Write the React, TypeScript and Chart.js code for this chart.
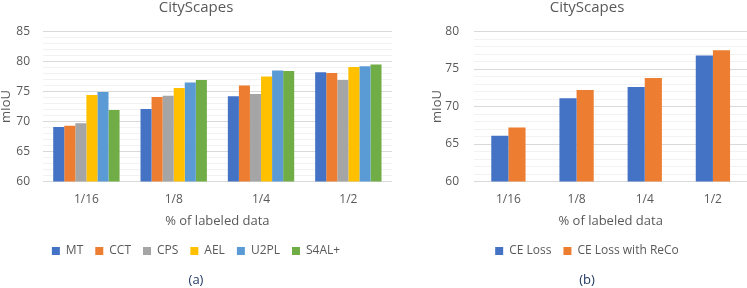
import React, { useEffect, useRef } from "react";
import { Chart, registerables } from "chart.js";

Chart.register(...registerables);

const categories = ["1/16", "1/8", "1/4", "1/2"];

const leftSeriesNames = ["MT", "CCT", "CPS", "AEL", "U2PL", "S4AL+"];
const mtValues = [69.1, 72.1, 74.2, 78.2];
const cctValues = [69.3, 74.1, 76.0, 78.1];
const cpsValues = [69.7, 74.3, 74.6, 76.9];
const aelValues = [74.4, 75.6, 77.5, 79.1];
const u2plValues = [74.9, 76.5, 78.5, 79.2];
const s4alValues = [71.9, 76.9, 78.4, 79.5];
const leftColors = ["#4472C4", "#ED7D31", "#A5A5A5", "#FFC000", "#5B9BD5", "#70AD47"];

const rightSeriesNames = ["CE Loss", "CE Loss with ReCo"];
const ceLossValues = [66.1, 71.1, 72.6, 76.8];
const ceRecoValues = [67.2, 72.2, 73.8, 77.5];
const rightColors = ["#4472C4", "#ED7D31"];

const chartTitle = "CityScapes";
const xAxisTitle = "% of labeled data";
const yAxisTitle = "mIoU";
const leftYMin = 60;
const leftYMax = 85;
const rightYMin = 60;
const rightYMax = 80;

const FONT = "'Open Sans', 'Noto Sans', sans-serif";
const TEXT = "#595959";

function makeConfig(
  names: string[],
  values: number[][],
  colors: string[],
  yMin: number,
  yMax: number,
  caption: string,
  catPct: number,
  yTitlePad: { top: number; bottom: number },
  yTickPad: number
): any {
  return {
    type: "bar",
    data: {
      labels: categories,
      datasets: names.map((n, i) => ({
        label: n,
        data: values[i],
        backgroundColor: colors[i],
        borderWidth: 0,
        barPercentage: 1,
        categoryPercentage: catPct,
      })),
    },
    options: {
      animation: false,
      responsive: false,
      maintainAspectRatio: false,
      layout: { padding: 0 },
      plugins: {
        title: {
          display: true,
          text: chartTitle,
          color: TEXT,
          font: { family: FONT, size: 15, weight: "normal" },
          padding: { top: -1, bottom: 14.5 },
        },
        subtitle: {
          display: true,
          position: "bottom",
          text: caption,
          color: "#203864",
          font: { family: FONT, size: 13, weight: "normal" },
          padding: { top: 5.4, bottom: 0 },
        },
        legend: {
          display: true,
          position: "bottom",
          labels: {
            boxWidth: 8,
            boxHeight: 8,
            padding: 12,
            color: TEXT,
            font: { family: FONT, size: 12 },
          },
        },
        tooltip: { enabled: false },
      },
      scales: {
        x: {
          grid: { display: false, drawTicks: false },
          border: { display: false },
          ticks: {
            color: TEXT,
            padding: 11,
            font: { family: FONT, size: 12 },
          },
          title: {
            display: true,
            text: xAxisTitle,
            color: TEXT,
            font: { family: FONT, size: 13 },
            padding: { top: -4.5, bottom: 4 },
          },
        },
        y: {
          min: yMin,
          max: yMax,
          border: { display: false },
          grid: {
            drawTicks: false,
            color: (ctx: any) =>
              ctx.tick && ctx.tick.value % 5 === 0 ? "#D9D9D9" : "#F2F2F2",
            lineWidth: 1,
          },
          ticks: {
            stepSize: 1,
            autoSkip: false,
            color: TEXT,
            padding: yTickPad,
            font: { family: FONT, size: 12 },
            callback: (v: any) => (Number(v) % 5 === 0 ? String(v) : ""),
          },
          title: {
            display: true,
            text: yAxisTitle,
            color: TEXT,
            font: { family: FONT, size: 13 },
            padding: yTitlePad,
          },
        },
      },
    },
  };
}

function ChartBox(props: { left: number; width: number; config: any }) {
  const ref = useRef<HTMLCanvasElement | null>(null);
  useEffect(() => {
    if (!ref.current) return;
    const chart = new Chart(ref.current, props.config);
    return () => chart.destroy();
  }, []);
  return (
    <div
      style={{
        position: "absolute",
        left: props.left,
        top: 0,
        width: props.width,
        height: 288,
      }}
    >
      <canvas ref={ref} width={props.width} height={288} style={{ display: "block" }} />
    </div>
  );
}

export default function App() {
  const leftConfig = makeConfig(
    leftSeriesNames,
    [mtValues, cctValues, cpsValues, aelValues, u2plValues, s4alValues],
    leftColors,
    leftYMin,
    leftYMax,
    "(a)",
    0.76,
    { top: -1.8, bottom: -10.2 },
    12.7
  );
  const rightConfig = makeConfig(
    rightSeriesNames,
    [ceLossValues, ceRecoValues],
    rightColors,
    rightYMin,
    rightYMax,
    "(b)",
    0.503,
    { top: 2.7, bottom: -15.3 },
    15.3
  );
  return (
    <div style={{ position: "absolute", left: 0, top: 0, width: 747, height: 288, overflow: "hidden", background: "#fff" }}>
      <ChartBox left={0} width={392} config={leftConfig} />
      <ChartBox left={427} width={320} config={rightConfig} />
    </div>
  );
}
